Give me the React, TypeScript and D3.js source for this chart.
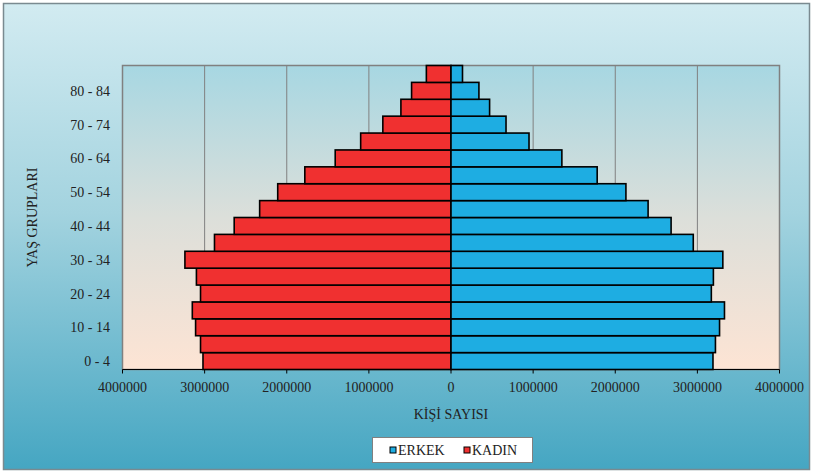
import React from "react";
import * as d3 from "d3";

const ageGroups = ["0 - 4","5 - 9","10 - 14","15 - 19","20 - 24","25 - 29","30 - 34","35 - 39","40 - 44","45 - 49","50 - 54","55 - 59","60 - 64","65 - 69","70 - 74","75 - 79","80 - 84","85+"];
const erkek = [3190000,3220000,3270000,3330000,3170000,3195000,3310000,2950000,2680000,2400000,2130000,1780000,1350000,950000,670000,470000,340000,140000];
const kadin = [3020000,3050000,3110000,3150000,3050000,3100000,3240000,2880000,2640000,2330000,2110000,1780000,1410000,1100000,830000,610000,480000,300000];
const xTicks = [-4000000,-3000000,-2000000,-1000000,0,1000000,2000000,3000000,4000000];
const yLabelGroups = ["0 - 4","10 - 14","20 - 24","30 - 34","40 - 44","50 - 54","60 - 64","70 - 74","80 - 84"];

const W = 814, H = 473;
const plot = { left: 122.5, right: 779.5, top: 65.5, bottom: 369.5 };
const RED = "#f03030";
const BLUE = "#1eade2";
const FONT = "\"Liberation Serif\", \"DejaVu Serif\", serif";

export default function App() {
  const x = d3.scaleLinear().domain([-4000000, 4000000]).range([plot.left, plot.right]);
  const y = d3.scaleBand().domain([...ageGroups].reverse()).range([plot.top, plot.bottom]).padding(0);
  const bw = y.bandwidth();
  const ts = { fontFamily: FONT, fontSize: 14 };
  return (
    <svg width={W} height={H} style={{ position: "absolute", left: 0, top: 0, fontFamily: FONT }}>
      <defs>
        <linearGradient id="outer" x1="0" y1="0" x2="0" y2="1">
          <stop offset="0" stopColor="#d2ebf1" />
          <stop offset="0.45" stopColor="#a3d3df" />
          <stop offset="1" stopColor="#45a6c2" />
        </linearGradient>
        <linearGradient id="inner" x1="0" y1="0" x2="0" y2="1">
          <stop offset="0" stopColor="#a7d7e2" />
          <stop offset="0.5" stopColor="#dcdfda" />
          <stop offset="1" stopColor="#fde4d4" />
        </linearGradient>
      </defs>
      <rect x={3.5} y={3.5} width={806} height={466} fill="url(#outer)" stroke="#7a8a90" strokeWidth={1.5} />
      <rect x={plot.left} y={plot.top} width={plot.right - plot.left} height={plot.bottom - plot.top} fill="url(#inner)" stroke="#808080" strokeWidth={1.5} />
      {xTicks.filter(t => t !== 0 && Math.abs(t) !== 4000000).map(t => (
        <line key={t} x1={x(t)} x2={x(t)} y1={plot.top} y2={plot.bottom} stroke="#808080" strokeWidth={1} />
      ))}
      {ageGroups.map((g, i) => (
        <g key={g}>
          <rect x={x(-kadin[i])} y={y(g)!} width={x(0) - x(-kadin[i])} height={bw} fill={RED} stroke="#000" strokeWidth={1.6} />
          <rect x={x(0)} y={y(g)!} width={x(erkek[i]) - x(0)} height={bw} fill={BLUE} stroke="#000" strokeWidth={1.6} />
        </g>
      ))}
      <line x1={plot.left} x2={plot.right} y1={plot.bottom} y2={plot.bottom} stroke="#000" strokeWidth={1} />
      {xTicks.map(t => (
        <g key={t}>
          <line x1={x(t)} x2={x(t)} y1={plot.bottom} y2={plot.bottom + 4} stroke="#000" strokeWidth={1} />
          <text x={x(t)} y={plot.bottom + 22} textAnchor="middle" style={ts} fill="#222">{Math.abs(t)}</text>
        </g>
      ))}
      {yLabelGroups.map(g => (
        <text key={g} x={110} y={y(g)! + bw / 2 + 5} textAnchor="end" style={ts} fill="#222">{g}</text>
      ))}
      <text x={451} y={419} textAnchor="middle" style={ts} fill="#222">KİŞİ SAYISI</text>
      <text transform={`translate(37,${(plot.top + plot.bottom) / 2}) rotate(-90)`} textAnchor="middle" style={ts} fill="#222">YAŞ GRUPLARI</text>
      <rect x={372.5} y={437.5} width={160} height={25} fill="#fff" stroke="#808080" strokeWidth={1} />
      <rect x={390} y={447} width={6} height={6} fill={BLUE} stroke="#000" strokeWidth={1} />
      <text x={398} y={455} style={ts} fill="#222">ERKEK</text>
      <rect x={464} y={447} width={6} height={6} fill={RED} stroke="#000" strokeWidth={1} />
      <text x={472} y={455} style={ts} fill="#222">KADIN</text>
    </svg>
  );
}
